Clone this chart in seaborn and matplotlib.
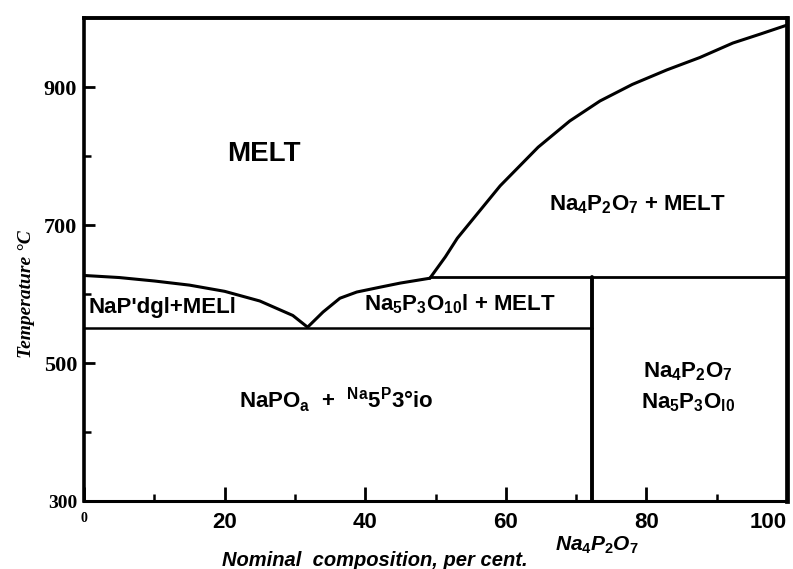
import matplotlib
matplotlib.use("Agg")
import matplotlib.pyplot as plt
import seaborn as sns

# phase boundaries (composition %, temperature degC)
left_liq_x = [0, 5.0, 10.0, 15.0, 20.0, 25.0, 29.7, 31.8]
left_liq_t = [627, 624, 619, 613, 604, 590, 569, 552]
right_liq_x = [31.8, 34.0, 36.4, 38.8, 42.1, 45.0, 49.2]
right_liq_t = [552, 574, 594, 603, 610, 616, 623]
na4_liq_x = [49.2, 51.4, 53.1, 59.2, 64.6, 69.1, 73.4, 78.0, 82.9, 87.6, 92.3,
             96.2, 100]
na4_liq_t = [623, 654, 681, 757, 813, 851, 880, 904, 925, 943, 964, 977, 990]
flat_x = [49.2, 100]
flat_t = [625, 625]
solidus_x = [0, 72.3]
solidus_t = [551, 551]
vert_x = [72.3, 72.3]
vert_t = [300, 625]

x_ticks = [0, 20, 40, 60, 80, 100]
x_minor = [10, 30, 50, 70, 90]
y_ticks = [300, 500, 700, 900]
y_minor = [400, 600, 800]

sns.set_style("ticks")
plt.rcParams["font.family"] = ["Liberation Sans", "DejaVu Sans"]
plt.rcParams["font.weight"] = "bold"
plt.rcParams["text.color"] = "black"
plt.rcParams["axes.labelcolor"] = "black"
plt.rcParams["xtick.color"] = "black"
plt.rcParams["ytick.color"] = "black"
plt.rcParams["mathtext.fontset"] = "custom"
plt.rcParams["mathtext.rm"] = "Liberation Sans:bold"
plt.rcParams["mathtext.it"] = "Liberation Sans:bold:italic"
plt.rcParams["mathtext.bf"] = "Liberation Sans:bold"

fig = plt.figure(figsize=(7.93, 5.69), dpi=100)
ax = fig.add_axes([0.106, 0.1195, 0.8864, 0.8485])

for xs, ts, lw in [(left_liq_x, left_liq_t, 2.2), (right_liq_x, right_liq_t, 2.2),
                   (na4_liq_x, na4_liq_t, 2.2), (flat_x, flat_t, 2.0),
                   (solidus_x, solidus_t, 1.8), (vert_x, vert_t, 2.8)]:
    sns.lineplot(x=xs, y=ts, ax=ax, color="black", lw=lw, sort=False,
                 estimator=None)

ax.set_xlim(0, 100)
ax.set_ylim(300, 1000)

for side, w in [("left", 2.6), ("bottom", 2.2), ("top", 2.8), ("right", 3.4)]:
    ax.spines[side].set_linewidth(w)
    ax.spines[side].set_color("black")

ax.set_xticks(x_ticks)
ax.set_xticks(x_minor, minor=True)
ax.set_yticks(y_ticks)
ax.set_yticks(y_minor, minor=True)
ax.tick_params(axis="x", which="major", direction="in", length=10, width=2, pad=8,
               labelsize=16)
ax.tick_params(axis="x", which="minor", direction="in", length=5, width=1.8)
ax.tick_params(axis="y", which="major", direction="in", length=8, width=2, pad=5,
               labelsize=16)
ax.tick_params(axis="y", which="minor", direction="in", length=5, width=1.8)

ax.set_xticklabels([str(v) for v in x_ticks])
xl = ax.get_xticklabels()
xl[0].set_fontsize(10)
xl[0].set_family("Liberation Serif")
xl[-1].set_ha("right")
for lab in ax.get_yticklabels():
    lab.set_family("Liberation Serif")
    lab.set_fontweight("bold")
ax.get_yticklabels()[0].set_fontsize(14)

ax.set_xlabel("Nominal  composition, per cent.", fontsize=14.5, fontstyle="italic",
              fontweight="bold")
ax.xaxis.set_label_coords(0.414, -0.104)
ax.set_ylabel("Temperature °C", fontsize=14, fontstyle="italic",
              family="Liberation Serif", fontweight="bold")
ax.yaxis.set_label_coords(-0.07, 0.428)

ax.text(73.0, -0.092, r"$Na_4P_2O_7$", transform=ax.get_xaxis_transform(),
        fontsize=15, ha="center", va="center")

ax.text(25.6, 803, "MELT", fontsize=20, ha="center", va="center")
ax.text(78.7, 729, r"Na$_4$P$_2$O$_7$ + MELT", fontsize=16, ha="center", va="center")
ax.text(0.7, 581, "NaP'dgl+MELl", fontsize=16, ha="left", va="center")
ax.text(53.5, 585, r"Na$_5$P$_3$O$_{10}$l + MELT", fontsize=16, ha="center",
        va="center")
ax.text(35.8, 446, r"NaPO$_\mathrm{a}$  +  $^\mathrm{Na}$5$^\mathrm{P}$3°io",
        fontsize=16, ha="center", va="center")
ax.text(85.9, 487, r"Na$_4$P$_2$O$_7$", fontsize=16, ha="center", va="center")
ax.text(85.9, 442, r"Na$_5$P$_3$O$_\mathrm{l0}$", fontsize=16, ha="center",
        va="center")

fig.savefig("out.png", dpi=100)
